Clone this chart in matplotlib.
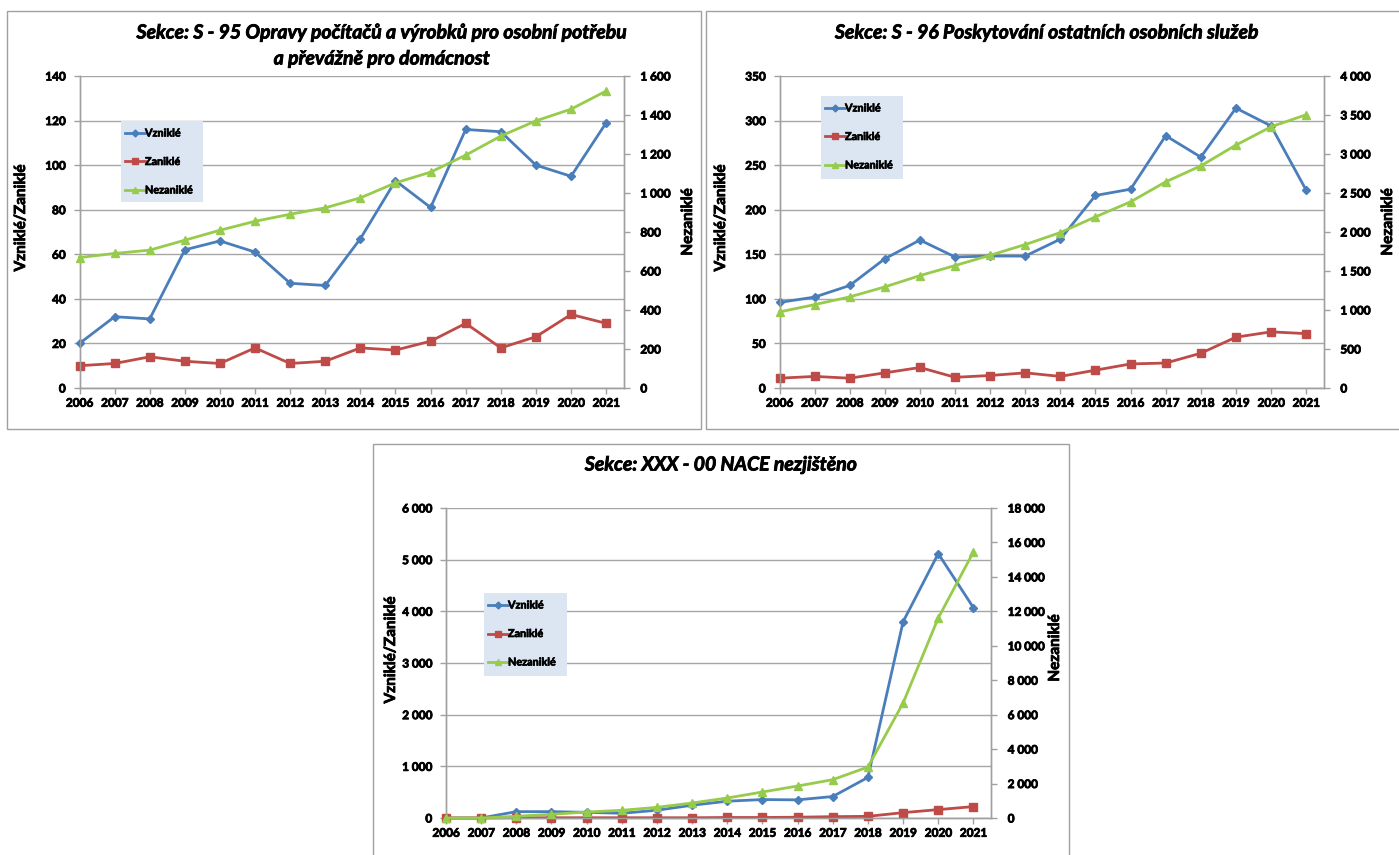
import matplotlib
matplotlib.use("Agg")
import matplotlib.pyplot as plt
from matplotlib.patches import Rectangle
from matplotlib.lines import Line2D
import matplotlib.patheffects as pe

plt.rcParams['font.family'] = ['Lato', 'DejaVu Sans']
plt.rcParams['font.weight'] = 'bold'

years = list(range(2006, 2022))

# S - 95
s95_vzn = [20, 32, 31, 62, 66, 61, 47, 46, 67, 93, 81, 116, 115, 100, 95, 119]
s95_zan = [10, 11, 14, 12, 11, 18, 11, 12, 18, 17, 21, 29, 18, 23, 33, 29]
s95_nez = [669, 690, 707, 758, 809, 855, 891, 924, 975, 1052, 1107, 1194, 1292, 1370, 1430, 1523]

# S - 96
s96_vzn = [96, 102, 115, 145, 166, 147, 148, 148, 167, 216, 223, 283, 259, 314, 294, 222]
s96_zan = [11, 13, 11, 17, 23, 12, 14, 17, 13, 20, 27, 28, 39, 57, 63, 61]
s96_nez = [975, 1069, 1168, 1296, 1441, 1570, 1702, 1839, 1993, 2194, 2387, 2643, 2848, 3114, 3349, 3503]

# XXX - 00
x00_vzn = [0, 0, 123, 123, 110, 91, 150, 247, 325, 357, 351, 416, 786, 3799, 5117, 4071]
x00_zan = [0, 0, 5, 5, 5, 5, 5, 5, 10, 10, 15, 26, 32, 104, 162, 221]
x00_nez = [0, 0, 100, 213, 348, 445, 619, 871, 1161, 1510, 1858, 2226, 2961, 6677, 11613, 15445]

titles = {
    "s95": ["Sekce: S - 95 Opravy počítačů a výrobků pro osobní potřebu", "a převážně pro domácnost"],
    "s96": ["Sekce: S - 96 Poskytování ostatních osobních služeb"],
    "x00": ["Sekce: XXX - 00 NACE nezjištěno"],
}
series_names = ["Vzniklé", "Zaniklé", "Nezaniklé"]

W, H = 1399, 855
BLUE = '#4a7ebb'
RED = '#be4b48'
GREEN = '#96cb4b'
GRID = '#a6a6a6'
AX = '#a0a0a0'

fig = plt.figure(figsize=(W / 100, H / 100), dpi=100)
thick = [pe.withStroke(linewidth=0.6, foreground='black')]


def fx(x):
    return x / W


def fy(y):
    return 1 - y / H


def fmt(v):
    return f"{int(round(v)):,}".replace(",", " ")


def panel(x0, y0, x1, y1):
    fig.patches.append(Rectangle((fx(x0), fy(y1)), fx(x1) - fx(x0), fy(y0) - fy(y1),
                                 transform=fig.transFigure, fill=False,
                                 edgecolor='#a0a0a0', linewidth=1.0))


def chart(rect, vzn, zan, nez, lmax, lstep, rmax, rstep, leg_rect, ylab_l, ylab_r):
    x0, y0, x1, y1 = rect
    ax = fig.add_axes([fx(x0), fy(y1), fx(x1) - fx(x0), fy(y0) - fy(y1)])
    ax2 = ax.twinx()
    ax.set_xlim(2006, 2021.5)
    ax.set_ylim(0, lmax)
    ax2.set_ylim(0, rmax)
    lt = list(range(0, lmax + 1, lstep))
    rt = list(range(0, rmax + 1, rstep))
    ax.set_yticks(lt)
    ax.set_yticklabels([fmt(v) for v in lt])
    ax2.set_yticks(rt)
    ax2.set_yticklabels([fmt(v) for v in rt])
    ax.set_xticks(years)
    ax.set_xticklabels([str(y) for y in years])
    ax.grid(axis='y', color=GRID, linewidth=1.0)
    ax.set_axisbelow(True)
    for a in (ax, ax2):
        a.spines['top'].set_visible(False)
        for s in ('left', 'right', 'bottom'):
            a.spines[s].set_color(AX)
            a.spines[s].set_linewidth(1.0)
        a.tick_params(axis='both', colors=AX, length=4, width=1.0, labelcolor='black',
                      labelsize=8.5, pad=3)
    ax.tick_params(axis='y', pad=6)
    ax2.tick_params(axis='y', pad=8)
    for lab in ax.get_xticklabels() + ax.get_yticklabels() + ax2.get_yticklabels():
        lab.set_path_effects(thick)

    ax.plot(years, vzn, color=BLUE, lw=2.0, marker='D', ms=4.5, zorder=3, clip_on=False)
    ax.plot(years, zan, color=RED, lw=2.0, marker='s', ms=5.5, zorder=3, clip_on=False)
    ax2.plot(years, nez, color=GREEN, lw=2.0, marker='^', ms=6, zorder=3, clip_on=False)

    # legend box
    lx0, ly0, lx1, ly1 = leg_rect
    lax = fig.add_axes([fx(lx0), fy(ly1), fx(lx1) - fx(lx0), fy(ly0) - fy(ly1)])
    lax.set_zorder(10)
    lax.set_facecolor('#dce6f2')
    lax.set_xlim(0, lx1 - lx0)
    lax.set_ylim(ly1 - ly0, 0)
    for s in lax.spines.values():
        s.set_visible(False)
    lax.set_xticks([])
    lax.set_yticks([])
    specs = [(BLUE, 'D', 3.5), (RED, 's', 4.5), (GREEN, '^', 5)]
    for i, (name, (c, m, ms)) in enumerate(zip(series_names, specs)):
        yy = 12 + i * 28.5
        lax.add_line(Line2D([4, 24], [yy, yy], color=c, lw=2.0))
        lax.add_line(Line2D([14], [yy], color=c, marker=m, ms=ms))
        lax.text(24, yy, name, fontsize=7.8, fontweight='bold', va='center', ha='left',
                 path_effects=[pe.withStroke(linewidth=0.5, foreground='black')])

    # axis labels
    fig.text(fx(ylab_l[0]), fy(ylab_l[1]), "Vzniklé/Zaniklé", rotation=90, fontsize=11,
             fontweight='bold', ha='center', va='center', path_effects=thick)
    fig.text(fx(ylab_r[0]), fy(ylab_r[1]), "Nezaniklé", rotation=90, fontsize=11,
             fontweight='bold', ha='center', va='center', path_effects=thick)
    return ax, ax2


# panels
panel(7, 11, 701, 429)
panel(706, 11, 1405, 429)
panel(373, 444, 1069, 860)

chart((79.5, 76, 623.7, 388), s95_vzn, s95_zan, s95_nez, 140, 20, 1600, 200,
      (121, 121, 203, 202), (21, 218), (688, 222))
chart((779.5, 76, 1323.7, 388), s96_vzn, s96_zan, s96_nez, 350, 50, 4000, 500,
      (821, 96, 903, 179), (721, 218), (1388, 222))
chart((446, 508, 991, 818), x00_vzn, x00_zan, x00_nez, 6000, 1000, 18000, 2000,
      (484, 593, 567, 676), (391, 650), (1055, 648))

tkw = dict(fontsize=14, fontweight='bold', fontstyle='italic', ha='center', va='center',
           path_effects=thick)
fig.text(fx(382), fy(33), titles["s95"][0], **tkw)
fig.text(fx(382), fy(59), titles["s95"][1], **tkw)
fig.text(fx(1047), fy(33), titles["s96"][0], **tkw)
fig.text(fx(721), fy(465), titles["x00"][0], **tkw)

fig.savefig("out.png", dpi=100, facecolor='white')
